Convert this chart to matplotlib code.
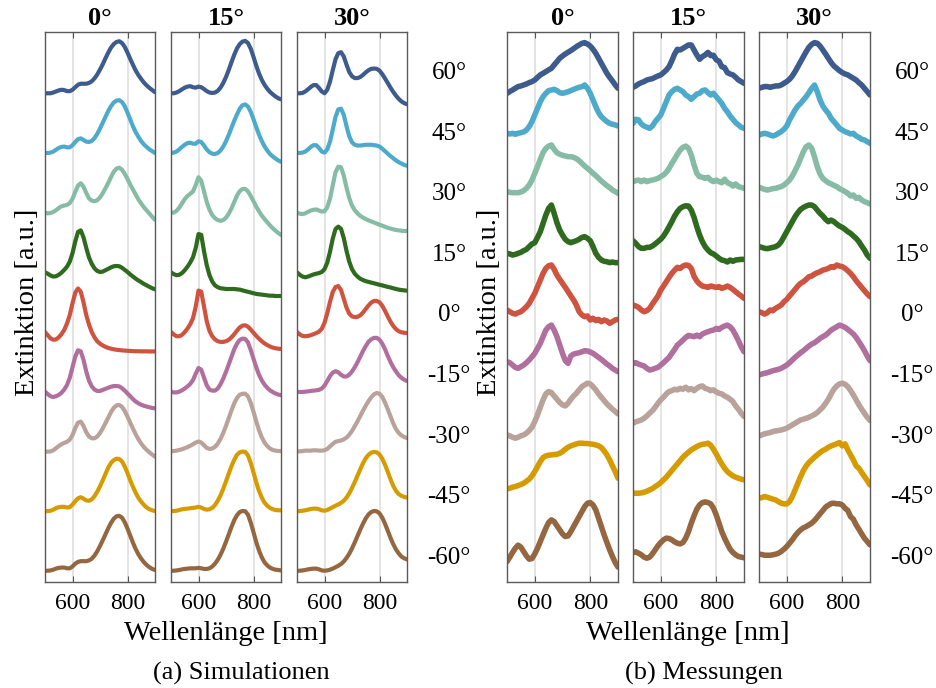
import numpy as np
import matplotlib
matplotlib.use("Agg")
import matplotlib.pyplot as plt

plt.rcParams['font.family'] = ['Liberation Serif', 'DejaVu Serif']

# wavelength grid of all spectra [nm]
wavelength = np.arange(500, 901, 10)

angle_labels = ['60°', '45°', '30°', '15°', '0°', '-15°', '-30°', '-45°', '-60°']
panel_titles = ['0°', '15°', '30°']
colors = ['#3d5b8d', '#4eaacb', '#86bca6', '#2f6b1f', '#ce5440',
          '#b06f9d', '#b8a299', '#d69b00', '#946740']

# simulated extinction spectra, one list per panel, rows 60° ... -60°
sim_0 = [
    [0, 0, 0, 0.7, 1.7, 2.7, 3.3, 3, 2, 2, 3.3, 5.7, 8, 9, 9, 9, 9.7, 11.3, 14, 17.7, 22.3, 27.3, 33, 38.3, 43, 46.3, 48.3, 49, 47.3, 43.7, 38.3, 32.3, 26.7, 21.3, 17, 13.3, 10, 7.3, 5, 3, 1],
    [0, 0, 0.3, 1.3, 3, 4.7, 5.7, 6, 5.3, 5.3, 7.3, 10.3, 13, 13.7, 12.3, 10.7, 10.3, 11.3, 14, 18, 23, 28.5, 34, 39.5, 44, 47.5, 49.3, 49.7, 48, 44, 38, 31.5, 25, 19.5, 15, 11, 8, 5.5, 3.3, 1.7, 0],
    [0, -0.7, -0.3, 0.7, 2.3, 4.3, 6, 6.7, 7.3, 9, 13, 19.5, 25.5, 27.7, 24.5, 18.5, 13.5, 11.3, 10.7, 11.7, 14.3, 18.3, 23, 28, 33.5, 38.5, 41.5, 42.3, 40.5, 36.5, 31.7, 26.5, 21.7, 17, 12.3, 8.5, 5, 2, -1, -4, -6.7],
    [0, -1.3, -3, -4, -3.7, -2.3, -0.3, 2.3, 5.3, 10, 18, 29, 38, 39.5, 33, 23, 14, 8, 3.7, 1.3, 0.3, 0.7, 2, 3.3, 4.7, 5.7, 6, 5.7, 4.3, 2.3, 0.3, -2, -4, -6, -7.7, -9.3, -11, -12.3, -13.7, -15, -16],
    [0, -3, -6, -7.3, -7, -5, -2, 2, 8, 16, 27, 37, 41, 38, 28, 16, 7, 0, -5, -8.7, -11, -12.7, -14, -15, -15.7, -16.3, -16.7, -17, -17.3, -17.5, -17.7, -17.8, -18, -18.1, -18.1, -18.2, -18.2, -18.2, -18.3, -18.3, -18.3],
    [0, -2.3, -4.3, -5, -4.3, -3, -1, 2, 6.3, 13, 23, 33, 39, 38, 30, 19, 10.3, 5, 2, 0.7, 0.7, 1.7, 2.7, 3.7, 4.7, 5.3, 5.3, 5, 3.3, 1, -1.7, -4.3, -7, -9.3, -11, -12.3, -13.3, -14, -14.7, -15.3, -15.7],
    [0, -0.3, 0, 1, 3, 5, 6.7, 8, 9, 11, 15.3, 22, 27, 28, 24, 18, 14, 12.3, 12.3, 14, 17.3, 21.7, 26.7, 31.7, 37, 41, 43.3, 43.7, 42, 38, 32.7, 27, 21.3, 16, 11.3, 7.3, 4, 1.3, -1, -3, -5],
    [0, 0, 0.3, 1.3, 2.7, 3.7, 4, 4, 3.3, 3.7, 6, 9.3, 12, 13, 11.7, 10, 9.7, 11, 14, 18.3, 23.3, 29, 35, 41, 45.3, 48, 49.3, 49, 46.7, 42, 35.7, 29, 22.7, 17, 12.3, 8.7, 5.7, 3.3, 1.7, 0.7, 0],
    [0, 0, 0.3, 1, 2, 2.7, 3, 3, 2.3, 2.3, 4, 6.7, 8.3, 9, 9, 9, 9.7, 11.3, 14.3, 18.3, 23.3, 28.7, 34.3, 40, 45, 49, 51.3, 51.7, 50, 45.7, 39.7, 33, 26.3, 20.3, 15.3, 11.3, 8, 5.3, 3.3, 1.7, 0.7],
]

sim_15 = [
    [0, 0, 0.7, 2, 3.7, 5.3, 6.3, 6.7, 5.7, 5.3, 6.3, 5.7, 4, 2, 0.7, 0.3, 0.7, 2.3, 5.3, 9.7, 15.3, 22, 29.3, 36.3, 42.3, 46.3, 48.7, 49.3, 47.3, 42, 34.3, 26, 18.7, 12.7, 8, 4.3, 1.3, -1, -3, -4.7, -5.7],
    [0, 0.3, 1.3, 3.3, 5.7, 7.7, 9.3, 9.7, 8.7, 8.7, 11, 10.3, 7, 3.3, 0.7, -0.7, -1, 0, 2.3, 6, 11, 17, 23.7, 30.3, 36.3, 41.7, 45, 45.7, 43.7, 38.7, 31.7, 24.3, 17.3, 11.3, 6.3, 2.3, -1, -3.3, -5.3, -7, -8.3],
    [0, 0, 1.7, 4.7, 8.7, 12.7, 15.7, 17.7, 20, 26, 33.3, 30, 20, 10, 2.7, -2.3, -5.3, -7, -7.7, -7, -4.7, -1, 4, 10, 16, 20.3, 22.3, 22.3, 20, 15.7, 10.7, 5.7, 1.3, -2.7, -6, -9, -12, -14.7, -17, -19.2, -21],
    [0, -1.7, -2.7, -2.3, -0.7, 2, 5.3, 9.3, 14.3, 23, 36, 35.3, 20, 6.7, -2.7, -8.7, -12.3, -14, -15, -15.3, -15.7, -15.7, -15.7, -15.7, -16, -16.3, -17, -17.7, -18.3, -19, -19.7, -20.3, -20.7, -21, -21.3, -21.7, -22, -22, -22.3, -22.3, -22.3],
    [0, -2.3, -4, -4, -2.7, 0, 3.3, 7.3, 13, 24, 39, 38, 24, 10, 1, -4, -7, -8.7, -9.3, -9.3, -8.7, -7.3, -5, -2, 1.3, 4.3, 6, 6.3, 5, 2.3, -0.7, -3.7, -6.3, -8.7, -10.7, -12.3, -13.7, -14.7, -15.3, -15.7, -16],
    [0, -0.7, -0.7, 0, 1.3, 3, 5, 7.3, 11, 17, 22.3, 20.7, 13.3, 6, 2, 1, 1, 3, 7, 12.3, 18.7, 25.7, 33, 40, 45.3, 48.7, 50, 49.7, 46.3, 39.3, 31, 23, 16, 10.7, 6.7, 3.7, 1.3, -0.3, -1.7, -2.7, -3.3],
    [0, 0.3, 0.7, 1.3, 2, 3, 4, 5.3, 6.7, 8.3, 9.3, 8.3, 5.7, 3.3, 2.3, 2.7, 4.3, 7.3, 11.7, 17.3, 24, 31.3, 38.7, 45.3, 50.3, 53.3, 54.3, 54.3, 51.7, 45.7, 37.3, 28.3, 20, 13.3, 8.3, 5, 2.7, 1.3, 0.7, 0.3, 0.3],
    [0, 0, 0.3, 1, 1.7, 2, 2.3, 2.7, 3, 3.3, 4, 3.3, 2, 1.3, 1.7, 3, 5.7, 9.7, 14.7, 21, 28, 35.3, 42.3, 48.3, 53, 55.3, 56, 55.7, 52.3, 45.3, 36.3, 27, 19, 12.7, 8, 5, 3, 1.7, 1, 0.7, 0.7],
    [0, 0, 0.3, 0.7, 1.3, 1.7, 2, 2.3, 2.3, 2.3, 2.7, 2.3, 1.7, 1.7, 2.3, 4, 6.7, 10.3, 15, 20.7, 27.3, 34.3, 41.3, 47.7, 52.3, 55.3, 56.3, 56, 52.7, 45.3, 36.3, 27, 19, 12.7, 8, 5, 3, 1.7, 1, 0.7, 0.3],
]

sim_30 = [
    [0, 0, 0.3, 1.7, 3.7, 6, 7.7, 7.7, 5, 1.7, 0, 3.3, 11, 21.7, 32, 37.7, 38.7, 34.7, 27, 20, 16, 14.3, 14.3, 15.3, 17.3, 19.7, 21.7, 23, 23.3, 23, 21.3, 18, 14, 9.7, 5.3, 1.3, -2.3, -5.3, -7.7, -9.3, -10.3],
    [0, 0, 0.3, 1.3, 3.3, 5.7, 7.3, 7.3, 4.7, 1.3, 0.3, 3.3, 10.7, 22, 34, 41, 41.7, 36, 25.3, 15.7, 10, 7.7, 7, 7, 7.3, 7.7, 7.7, 7.7, 7.3, 7, 6, 4, 1.7, -0.7, -3, -5, -7, -8.7, -10, -11.3, -12],
    [0, -1, -1.3, -0.7, 0.7, 2, 2.7, 3, 2, 1, 1.3, 5, 13, 25.7, 38, 43.3, 42.7, 35, 23.7, 13.7, 6.7, 2.3, -0.7, -3, -4.7, -6, -7.3, -8.3, -9.3, -10.3, -11.3, -12.3, -13.3, -14.3, -15, -15.7, -16.3, -16.7, -17, -17.3, -17.3],
    [0, -2.3, -4, -4.7, -4, -3, -2, -1.3, -0.7, 0.3, 3, 9, 19.3, 31.7, 40.7, 43, 41, 32.3, 20.3, 10, 3, -1.3, -4, -6, -7.3, -8.3, -9, -9.7, -10.3, -11, -11.7, -12.3, -13, -13.7, -14.3, -15, -15.7, -16.3, -16.7, -17, -17.3],
    [0, -2.3, -3.7, -4, -3.7, -3, -2, -1, 0.3, 3, 8.7, 17.7, 28.3, 37.7, 42.3, 43.3, 39.7, 31.3, 23, 17.3, 14.7, 14, 14.3, 15.7, 18.3, 21.7, 25, 27.7, 29.3, 29.3, 28, 24.7, 20, 14.7, 9.7, 5.7, 2.7, 0.7, -0.3, -0.7, -1],
    [0, -0.3, -0.3, 0, 0.3, 0.7, 1, 1.3, 1.7, 3, 5.7, 10, 14.7, 18, 19.3, 18.3, 16, 14.3, 14.3, 16, 19, 23, 27.7, 33, 38.3, 43, 47, 49.3, 50.7, 50.7, 49, 45.3, 40, 33.7, 28, 23, 19, 15.5, 13, 11.3, 10],
    [0, 0, 0.3, 0.7, 0.7, 0.7, 1, 1, 0.7, 0.7, 1, 2.3, 4.7, 7, 9, 9.7, 10.3, 11.3, 13, 15.7, 19.3, 23.7, 28.3, 33.3, 38.3, 43, 47.3, 51, 53.7, 55, 54.3, 51.3, 46, 39.7, 33, 26.3, 21, 17.3, 15, 13.5, 12.5],
    [0, 0, 0.3, 0.7, 1.3, 2, 2.3, 2.3, 1.7, 0.7, 0.3, 1, 2.3, 3.7, 5, 6.3, 7.7, 9.7, 12.7, 16.7, 21.7, 27.3, 33.3, 39.3, 45, 49.7, 53, 55, 55.7, 55.3, 53.3, 49.3, 43.7, 37, 30, 23.7, 19, 16, 14.3, 13.3, 12.7],
    [0, 0, 0.3, 0.7, 1.3, 1.7, 2, 2, 1.3, 0.3, 0, 0.3, 1, 2, 3.3, 4.7, 6.3, 8.7, 12, 16, 21, 26.7, 32.7, 38.7, 44.3, 49.3, 53, 55.3, 56.3, 56, 54, 50, 44.3, 37.7, 31, 25, 20, 16.3, 13.3, 11.7, 10.7],
]

# measured extinction spectra, same layout
meas_0 = [
    [0, 1.6, 3.1, 4.7, 6.3, 6.9, 7.8, 8.8, 10, 11, 12.5, 15, 17.3, 18.8, 20.4, 22, 23.5, 26.7, 29.8, 33, 35.1, 37, 38.6, 40.2, 42, 43.9, 45.5, 47, 47.7, 46.4, 44.5, 41.4, 37.6, 33, 28.2, 23.5, 18.8, 15, 11.6, 7.8, 4.7],
    [18.5, 17.9, 18.5, 17.6, 18.5, 19.1, 19.8, 21.6, 24.8, 29.5, 35.8, 42, 48.3, 53, 56.2, 58.7, 59.3, 59.9, 58.7, 56.8, 56.2, 56.8, 57.7, 58.7, 59.9, 60.9, 61.8, 62.4, 64, 60.9, 56.2, 49.9, 43.6, 38, 34.2, 31.7, 29.5, 27.9, 27, 26.4, 25.4],
    [19.8, 19.1, 18.8, 18.8, 18.8, 19.4, 20.7, 22.9, 26, 30.7, 37, 43.3, 50.2, 56.5, 60.5, 62.7, 63.7, 59.6, 56.5, 54.9, 54, 53.3, 52.7, 52.7, 52.1, 50.8, 48.9, 46.4, 43.9, 41.7, 39.5, 37, 34.8, 32.3, 29.8, 27.6, 25.4, 23.5, 21.3, 19.8, 18.2],
    [17.9, 17.3, 16.3, 16.9, 17.9, 18.8, 20.4, 21.6, 24.2, 26.7, 27.9, 32.9, 38.3, 46.1, 54, 60.2, 63.4, 55.5, 46.7, 39.8, 35.1, 31.1, 28.9, 27.9, 28.9, 29.8, 31.1, 32.9, 33.6, 32, 29.8, 24.2, 17.9, 14.1, 11.6, 10.4, 10, 9.1, 9.7, 9.1, 9.1],
    [20.7, 19.1, 17.6, 16.9, 18.2, 19.1, 21.3, 23.8, 27, 31.7, 36.4, 42.7, 48.9, 55.2, 59.9, 62.4, 63.1, 59, 53.6, 49.6, 45.8, 42, 38, 33.9, 30.1, 25.4, 19.1, 16, 14.4, 15.1, 11.3, 12.9, 10.7, 11.9, 9.7, 11.3, 10.4, 8.2, 9.7, 11.3, 11.9],
    [28.2, 27.3, 25.1, 22.9, 22, 23.5, 25.1, 27.3, 29.8, 32.9, 36.1, 40.8, 45.5, 51.8, 58, 61.2, 62.7, 58, 51.8, 43.9, 36.1, 29.2, 26.7, 33.6, 35.4, 36.1, 36.7, 37.6, 38.6, 38.3, 37.3, 36.1, 34.2, 32.3, 30.4, 28.2, 26, 24.2, 21.9, 20.4, 18.8],
    [15.5, 14.6, 13.3, 12.4, 13.3, 14.6, 15.5, 17.1, 19.6, 22.7, 28.1, 34.4, 41.6, 48.5, 54.1, 56.3, 55.4, 52.2, 49.1, 46, 43.8, 42.8, 45.3, 49.1, 52.2, 54.7, 57.9, 61, 62.6, 64.2, 63.5, 61, 57.9, 54.1, 51, 47.8, 44.7, 42.2, 39.7, 37.5, 35.3],
    [20.9, 21.5, 22.5, 23.1, 24, 25, 26.2, 28.1, 30, 33.1, 37.2, 41.9, 46.6, 50.4, 51.9, 52.6, 52.9, 53.2, 53.5, 54.4, 56, 58.2, 60.1, 61.4, 62.3, 63.2, 63.9, 63.9, 63.6, 63.6, 63.2, 62.9, 62.3, 61.4, 59.8, 56.7, 52.9, 48.2, 42.5, 37.2, 30.9],
    [8.7, 12.8, 17.2, 21.2, 24.1, 22.2, 18.1, 14, 10.9, 11.5, 15.9, 21.2, 27.5, 33.8, 40.1, 45.4, 47.9, 46.3, 42.3, 38.5, 34.7, 32.2, 32.8, 36.9, 41.6, 46.3, 51, 55.7, 60.4, 63.6, 64.2, 62, 57.3, 49.5, 41.6, 33.8, 26.6, 19.7, 13.4, 7.8, 3.4],
]

meas_15 = [
    [5.6, 6.9, 8.8, 10, 11, 12.5, 13.2, 13.8, 15.1, 16.3, 17.3, 19.5, 21.9, 25.1, 30.7, 37, 41.4, 40.8, 42.3, 43.9, 45.5, 45.5, 40.8, 36.1, 32, 34.5, 36.1, 38.5, 35.5, 35.8, 31.5, 30.2, 25, 24.2, 19.5, 18.2, 17.3, 15.1, 12.5, 11, 9.4],
    [27.9, 31.7, 31.1, 27.3, 25.4, 24.2, 23.2, 25.4, 29.5, 32.6, 35.8, 42, 48.3, 54.6, 57.7, 59.9, 60.9, 59.3, 57.7, 54.6, 53, 50.5, 53, 55.5, 56.2, 58.7, 59.3, 56.8, 54.6, 56.2, 53, 49.9, 46.7, 42, 38.9, 34.8, 31.7, 28.5, 26.4, 24.2, 23.2],
    [29.2, 30.1, 30.7, 29.2, 30.7, 29.2, 30.1, 30.7, 31.4, 32.3, 33.9, 35.5, 38, 41.7, 46.4, 50.5, 55, 58.9, 61.5, 62.7, 60.6, 54.3, 45, 37, 33.9, 33.3, 32.3, 33.3, 30.7, 29.2, 30.7, 29.2, 28.2, 31.5, 28.2, 27, 25.1, 27, 24.5, 23.8, 22.9],
    [29.8, 27.3, 24.2, 22.6, 22.6, 23.5, 23.5, 24.8, 26.7, 28.9, 31.1, 34.2, 38.3, 43, 47.7, 53, 57.1, 60.2, 61.8, 62.7, 62.4, 58.6, 51.8, 43, 35.1, 28.9, 24.2, 21, 18.5, 17.3, 15.4, 13.2, 11.6, 11, 9.7, 11.6, 10.4, 11.6, 11.9, 12.2, 12.2],
    [25.4, 24.5, 23.2, 20.7, 19.1, 20.1, 22.3, 26.4, 30.1, 33.9, 39.5, 43.3, 47.4, 51.5, 55.2, 58.3, 60.9, 59.9, 62.1, 63.1, 62.7, 59.9, 52.4, 48, 45.2, 43.3, 42.7, 42, 43.3, 42.7, 42, 42.7, 41.1, 42, 43.3, 42, 40.1, 37.9, 35.8, 33.9, 31.7],
    [26.7, 27.3, 26, 25.1, 24.2, 22, 20.4, 21, 22, 22.9, 25.1, 27.3, 29.8, 32.3, 36.1, 39.8, 43.9, 46.1, 48.6, 51.1, 53, 52.4, 51.8, 53.3, 51.8, 54.3, 55.5, 56.5, 57.4, 58, 59.6, 58.6, 60.6, 61.8, 62.7, 61.1, 58, 53.3, 48, 42.3, 37.6],
    [26.5, 27.8, 28.7, 29.6, 31.2, 33.4, 35.9, 38.4, 41.6, 45.3, 48.5, 51, 54.1, 56.3, 57.2, 58.5, 57.9, 59.4, 58.5, 60.4, 57.9, 59.1, 57.2, 59.4, 61, 61.6, 59.4, 58.5, 57.2, 57.9, 56, 54.7, 54.1, 52.2, 51, 49.1, 46.9, 42.8, 39.7, 35.9, 32.8],
    [16.8, 16.8, 16.8, 17.1, 17.7, 18.7, 20, 21.2, 23.1, 24.7, 26.9, 29.4, 31.9, 35, 38.2, 41.3, 44.4, 47.6, 50.7, 53.2, 55.4, 57.6, 59.2, 60.7, 62, 62.9, 63.2, 63.9, 62, 58.2, 53.8, 48.8, 44.4, 40.4, 37.2, 35, 33.1, 31.9, 30.9, 30, 29.4],
    [17.2, 17.8, 16.5, 15, 12.8, 11.8, 12.8, 15.9, 19.7, 23.5, 26.6, 29.1, 30.7, 30.4, 29.1, 27.2, 25.9, 25.3, 26.6, 30.7, 36.9, 44.8, 51.7, 58, 62, 64.2, 64.8, 64.2, 63, 58.9, 52.6, 44.8, 36.9, 30.7, 25.3, 20.3, 17.2, 15, 13.4, 12.8, 12.2],
]

meas_30 = [
    [4.7, 5.6, 6.3, 6.3, 5.6, 6.3, 6.9, 6.9, 7.8, 9.4, 11, 13.2, 16.3, 20.4, 25.1, 29.8, 34.5, 39.2, 43.3, 46.1, 47.7, 47.1, 44.5, 40.8, 37, 32.9, 28.9, 25.7, 23.5, 21.3, 19.5, 18.2, 17.3, 15.7, 14.1, 12.5, 10, 7.8, 4.7, 1.6, -1.6],
    [16.9, 17.9, 18.5, 17.9, 16.9, 16, 16.9, 18.5, 20.1, 22.3, 25.4, 31.1, 35.8, 40.5, 44.2, 46.7, 49.9, 53, 56.8, 60.9, 64, 57.7, 49.9, 44.2, 40.5, 37.3, 32.6, 29.5, 26.4, 23.2, 21.6, 20.1, 19.1, 17.9, 18.5, 16, 14.7, 12.9, 12.2, 10.7, 9.1],
    [23.8, 22.9, 21.9, 21.3, 21.9, 22.6, 22.9, 23.8, 24.5, 26, 28.2, 30.7, 34.5, 39.5, 44.9, 51.1, 57.4, 62.1, 63.7, 60.6, 52.7, 43.3, 36.4, 32.3, 30.1, 28.2, 27, 25.7, 24.5, 22.6, 21.3, 19.8, 18.2, 15.7, 16.6, 13.5, 14.4, 11.9, 10.4, 9.4, 8.2],
    [24.2, 23.5, 22.6, 22.3, 22.9, 23.5, 24.2, 25.7, 28.9, 33.6, 38.3, 43, 47.7, 52.4, 56.2, 59.3, 61.1, 62.4, 63.4, 63.4, 61.8, 58.6, 55.5, 53, 49.9, 47.7, 49.2, 47.7, 45.5, 43.6, 42.3, 40.5, 38.3, 36.7, 34.2, 32, 28.9, 24.8, 21, 16.3, 13.2],
    [19.1, 18.2, 16.9, 18.2, 20.7, 20.1, 22.3, 23.8, 25.4, 28.5, 30.7, 33.9, 37, 40.1, 43.3, 45.8, 47.4, 49.6, 52.1, 52.7, 54.6, 55.8, 56.8, 58.3, 59, 59.9, 61.5, 60.9, 63.1, 62.1, 61.5, 59.9, 57.7, 55.2, 52.1, 48.3, 45.2, 42, 38.9, 35.8, 33.3],
    [15.7, 16.6, 17.3, 17.9, 18.8, 19.8, 20.4, 21, 22, 23.5, 25.1, 27.3, 29.8, 32.3, 34.5, 36.7, 38.6, 40.8, 43, 44.9, 46.1, 48, 50.2, 51.8, 53.3, 55.5, 58, 59.6, 61.1, 62.7, 61.8, 60.6, 58.6, 56.5, 54.3, 51.1, 47.1, 43, 38.6, 33.6, 29.2],
    [14.6, 15.5, 16.5, 17.1, 17.7, 18.7, 19.3, 19.6, 20.2, 20.9, 21.8, 23.4, 24.9, 26.5, 28.1, 29.6, 30.3, 31.2, 32.1, 33.4, 34.7, 36.5, 39.1, 41.6, 45.3, 49.1, 54.1, 58.5, 61.6, 63.5, 64.2, 63.2, 61, 57.3, 53.2, 48.5, 43.8, 39.7, 35.9, 32.1, 29],
    [12.1, 12.7, 13.7, 13, 12.1, 11.2, 10.5, 8.9, 7.4, 6.7, 6.7, 8.9, 13.7, 19.9, 26.2, 32.5, 38.1, 42.5, 45.7, 48.2, 50.7, 52.9, 55.1, 57, 58.2, 60.1, 61.4, 62.3, 63.3, 64.5, 61.4, 63.3, 57.6, 52.9, 48.2, 42.5, 40.3, 36.3, 32.5, 28.7, 24.6],
    [15.6, 15.3, 14.6, 14.6, 14.6, 15, 15.6, 16.5, 18.1, 20.3, 22.8, 25.9, 29.1, 32.8, 36, 38.5, 40.4, 41.6, 43.2, 44.8, 47.3, 50.4, 53.6, 56.7, 59.9, 61.7, 63.3, 63.6, 63, 63, 62, 58.9, 56.7, 51, 48.5, 43.2, 39.1, 34.7, 30.6, 27.5, 24.4],
]

STEP = 56.2          # vertical offset between stacked spectra
W, H = 936, 688


def fx(px):
    return px / W


def fy(py):
    return 1 - py / H


fig = plt.figure(figsize=(W / 100, H / 100), dpi=100)

groups = [
    ([sim_0, sim_15, sim_30], [45, 171, 297], 110, 3.0),
    ([meas_0, meas_15, meas_30], [507, 633, 759], 111, 4.0),
]

for panels, lefts, width, lw in groups:
    for j, (data, left) in enumerate(zip(panels, lefts)):
        ax = fig.add_axes([fx(left), fy(582), width / W, 550 / H])
        for i, series in enumerate(data):
            offset = (8 - i) * STEP
            ax.plot(wavelength, np.array(series) + offset, color=colors[i],
                    lw=lw, solid_capstyle='round', solid_joinstyle='round')
        ax.set_xlim(500, 900)
        ax.set_ylim(-10.6, 507.3)
        ax.set_xticks([600, 800])
        ax.set_yticks([])
        ax.grid(axis='x', color='#dcdcdc', lw=1.1)
        ax.set_axisbelow(True)
        ax.tick_params(axis='x', direction='in', top=True, length=4,
                       width=0.8, color='#555555', labelsize=17, pad=8)
        for sp in ax.spines.values():
            sp.set_color('#5a5a5a')
            sp.set_linewidth(1.0)
        ax.set_title(panel_titles[j], fontsize=19, fontweight='bold', pad=5)

# angle labels next to each group
for cx in (449, 912):
    for k, lab in enumerate(angle_labels):
        fig.text(fx(cx), fy(73 + 60.6 * k), lab, fontsize=18,
                 ha='center', va='center')

for cx in (28, 489):
    fig.text(fx(cx), fy(302), 'Extinktion [a.u.]', fontsize=20.5,
             rotation=90, ha='center', va='center')

for cx in (226, 688):
    fig.text(fx(cx), fy(633), 'Wellenlänge [nm]', fontsize=20.5,
             ha='center', va='center')

fig.text(fx(241), fy(673), '(a) Simulationen', fontsize=19, ha='center', va='center')
fig.text(fx(704), fy(673), '(b) Messungen', fontsize=19, ha='center', va='center')

fig.savefig('out.png', dpi=100)
